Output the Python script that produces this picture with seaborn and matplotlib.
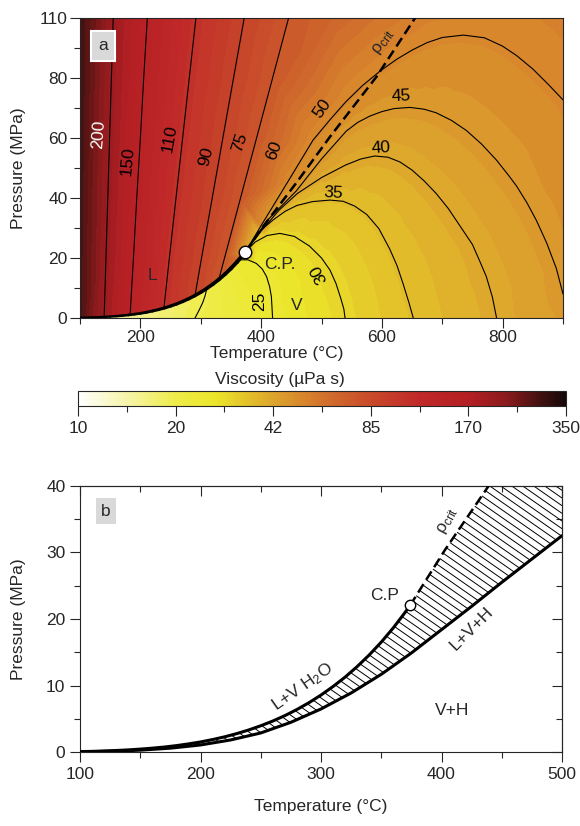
import numpy as np
import matplotlib
matplotlib.use("Agg")
import matplotlib.pyplot as plt
import matplotlib.tri as mtri
from matplotlib.colors import LinearSegmentedColormap, LogNorm
from matplotlib.cm import ScalarMappable
from matplotlib.patches import Polygon
from matplotlib.collections import LineCollection
from matplotlib.ticker import FixedLocator, NullFormatter
import seaborn as sns

sns.set_style("ticks")
plt.rcParams["font.family"] = ["Liberation Sans", "DejaVu Sans"]
plt.rcParams["mathtext.fontset"] = "custom"
plt.rcParams["mathtext.rm"] = "Liberation Sans"
plt.rcParams["mathtext.it"] = "Liberation Sans:italic"
plt.rcParams["axes.linewidth"] = 0.8
FS = 12.5

# ── Data ───────────────────────────────────────────────
T_CP, P_CP, VISC_CP = 374.0, 22.06, 42.0

# boiling curve of H2O with viscosity on both sides (µPa s)
BOIL_T = [100, 110, 120, 130, 140, 150, 160, 170, 180, 190, 200, 210, 220, 230, 240, 250, 260,
          270, 280, 290, 300, 310, 320, 330, 340, 350, 360, 370, 374]
BOIL_P = [0.10, 0.14, 0.20, 0.27, 0.36, 0.48, 0.62, 0.79, 1.00, 1.26, 1.55, 1.91, 2.32, 2.80,
          3.35, 3.98, 4.69, 5.50, 6.42, 7.44, 8.59, 9.87, 11.28, 12.86, 14.60, 16.53, 18.67,
          21.04, 22.06]
BOIL_LIQ = [282, 255, 232, 214, 200, 184, 172, 162, 153, 144, 135, 128, 122, 116, 111, 106, 102,
            97, 94, 90, 86, 82, 78, 74.5, 70.5, 66, 61.5, 52, 42]
BOIL_VAP = [12.3, 12.6, 13.0, 13.3, 13.7, 14.0, 14.4, 14.8, 15.1, 15.5, 15.8, 16.2, 16.6, 17.0,
            17.4, 17.8, 18.2, 18.6, 19.0, 19.4, 19.7, 20.1, 21.0, 21.8, 22.6, 23.5, 24.6, 27, 42]

# critical isochore
RHO_T = [374, 403, 460, 514, 591, 655]
RHO_P = [22.06, 30.4, 45.5, 60.4, 80.4, 100]

# liquid-side viscosity isolines
C200_T = [140, 143, 146, 149, 152, 155]
C200_P = [0.36, 20, 40, 60, 80, 100]
C150_T = [183, 188.5, 194, 200, 205.5, 211.5]
C150_P = [1.05, 20, 40, 60, 80, 100]
C110_T = [239, 248, 259, 270, 281, 292]
C110_P = [3.35, 20, 40, 60, 80, 100]
C90_T = [290.5, 301.3, 319, 336.6, 354.3, 372]
C90_P = [7.5, 20, 40, 60, 80, 100]
C75_T = [330, 339.4, 365.9, 392.5, 419, 445.5]
C75_P = [12.9, 20, 40, 60, 80, 100]

# vapour / supercritical isolines
C50_T = [374, 400, 446, 486, 515, 540, 568, 597, 625, 650, 675, 700, 735, 770, 800, 823, 850, 875, 900]
C50_P = [22.06, 30.8, 46, 59.3, 66.3, 72, 77.5, 82.3, 86.3, 89.3, 91.8, 93.5, 94.3, 93.4, 90.6, 87.5, 83, 78, 72.7]
C45_T = [374, 410, 458, 500, 541, 560, 580, 600, 620, 646, 670, 690, 715, 740, 765, 790, 810, 823, 840,
         856, 873, 889, 900]
C45_P = [22.06, 32.5, 42.3, 53, 62.3, 65.2, 67.3, 68.8, 69.8, 70.2, 69.6, 68.4, 65.9, 62.5, 58, 52.6, 47.5,
         44, 38.5, 32.5, 25, 16.5, 8]
C40_T = [374, 400, 430, 460, 500, 540, 565, 588, 610, 630, 650, 670, 690, 710, 730, 750, 762, 773, 783, 790]
C40_P = [22.06, 29, 36, 41.5, 46.8, 51, 53, 54, 53.6, 52, 49.3, 45.7, 41.5, 36.5, 30.5, 24.5, 19, 13.8, 7, 0]
C35_T = [374, 395, 420, 440, 459, 485, 514, 536, 555, 575, 595, 613, 625, 635, 645, 652]
C35_P = [22.06, 28.5, 32.7, 35.6, 37.5, 38.8, 39.3, 38.9, 37.3, 34.5, 29.8, 23, 17.5, 11.5, 5, 0]
C30_T = [374, 390, 410, 431, 455, 480, 500, 514, 524, 532, 537, 539]
C30_P = [22.06, 25.3, 27.5, 28.2, 27.2, 24, 20, 16, 11.5, 6.5, 3, 0]
C25_T = [364, 378, 392, 402, 409, 414, 417, 419]
C25_P = [19.4, 19.4, 18.2, 16.3, 13.8, 10.5, 7.1, 0]
C20_T = [290.5, 297, 303, 307, 310]
C20_P = [0, 2.5, 5, 7.3, 9.7]

# extra field samples at the frame edges (T, P, viscosity)
EDGE_T = [100, 100, 100, 100, 100, 150, 200, 250, 330, 360, 350, 385, 390, 480, 595, 720, 850, 900, 900, 900,
          520, 600, 680, 760, 840]
EDGE_P = [0, 25, 50, 75, 100, 0, 0, 0, 0, 0, 8, 8, 0, 0, 0, 0, 0, 0, 40, 100,
          100, 100, 100, 100, 100]
EDGE_V = [12.3, 284, 287, 290, 292, 14.0, 15.9, 17.9, 21.4, 22.6, 22.5, 24.4, 24.1, 27.5, 32.5, 37.5, 42.8,
          44.3, 47.5, 53.5, 66, 58, 53, 51.5, 52]

# panel b: halite-saturated L+V+H curve
LVH_T = [100, 125, 150, 175, 200, 225, 250, 275, 300, 325, 350, 375, 400, 425, 450, 475, 500]
LVH_P = [0.06, 0.15, 0.32, 0.62, 1.1, 1.85, 2.9, 4.5, 6.5, 8.9, 11.7, 14.9, 18.4, 21.9, 25.5, 29.0, 32.5]

CB_LABELS = ["10", "20", "42", "85", "170", "350"]

# ── Colour map ─────────────────────────────────────────
cmap = LinearSegmentedColormap.from_list("visc", [
    (0.00, "#ffffff"), (0.10, "#f6f4a8"), (0.20, "#eeec48"), (0.28, "#ebe62a"),
    (0.34, "#e4c42a"), (0.40, "#dda42c"), (0.46, "#d8862c"), (0.52, "#d06a2c"),
    (0.60, "#c84a2a"), (0.70, "#c02828"), (0.80, "#b41f24"), (0.88, "#8a1a1c"),
    (0.94, "#4a1212"), (1.00, "#160808")])
VMIN, VMAX = 10, 350
LMIN, LMAX = np.log10(VMIN), np.log10(VMAX)

# ── Scattered field samples ────────────────────────────
liquid_lines = [(200, C200_T, C200_P), (150, C150_T, C150_P), (110, C110_T, C110_P),
                (90, C90_T, C90_P), (75, C75_T, C75_P)]
vapour_lines = [(25, C25_T, C25_P), (20, C20_T, C20_P)]
arc_lines = [(50, C50_T, C50_P), (45, C45_T, C45_P), (40, C40_T, C40_P),
             (35, C35_T, C35_P), (30, C30_T, C30_P)]

fx, fy, fv, ff = [], [], [], []


def add_pt(t, p, v, f):
    fx.append(t); fy.append(p); fv.append(v); ff.append(f)


for lev, ts, ps in liquid_lines:
    for t, p in zip(ts, ps):
        add_pt(t, p, lev, "L" if t < T_CP else "S")
for lev, ts, ps in vapour_lines:
    for t, p in zip(ts, ps):
        add_pt(t, p, lev, "V" if t < T_CP else "S")
for lev, ts, ps in arc_lines:
    for t, p in zip(ts[1:], ps[1:]):
        add_pt(t, p, lev, "S")
for t, p, vl, vv in zip(BOIL_T[:-1], BOIL_P[:-1], BOIL_LIQ[:-1], BOIL_VAP[:-1]):
    add_pt(t, p + 0.35, vl, "L")
    add_pt(t, p - 0.35, vv, "V")
add_pt(T_CP, P_CP, VISC_CP, "S")
for t, p, v in zip(EDGE_T, EDGE_P, EDGE_V):
    below = t < T_CP and p < np.interp(t, BOIL_T, BOIL_P)
    add_pt(t, p, v, "V" if below else ("L" if t < T_CP else "S"))

fx, fy, fz, ff = np.array(fx), np.array(fy), np.log10(fv), np.array(ff)


def side_field(keep):
    sel = np.isin(ff, keep)
    x, y = fx[sel], fy[sel]
    base = mtri.Triangulation(x, y * 5.0)        # triangulate in screen-like aspect
    return mtri.Triangulation(x, y, triangles=base.triangles), fz[sel]


tri_vap, z_vap = side_field(["V", "S"])
tri_liq, z_liq = side_field(["L", "S"])

# ── Figure ─────────────────────────────────────────────
fig = plt.figure(figsize=(5.8, 8.26), dpi=100)
W, H = 580.0, 826.0
ax1 = fig.add_axes([80 / W, 1 - 318 / H, 483 / W, 300 / H])
cax = fig.add_axes([78 / W, 1 - 406 / H, 488 / W, 15 / H])
ax2 = fig.add_axes([80 / W, 1 - 752.3 / H, 482 / W, 266.6 / H])

# ── Panel a ────────────────────────────────────────────
levels = np.linspace(LMIN, LMAX, 61)
ax1.tricontourf(tri_vap, z_vap, levels=levels, cmap=cmap, vmin=LMIN, vmax=LMAX, zorder=0)
cs_liq = ax1.tricontourf(tri_liq, z_liq, levels=levels, cmap=cmap, vmin=LMIN, vmax=LMAX, zorder=1)
liq_side = Polygon(np.column_stack([[90] + BOIL_T + C50_T[1:] + [910, 910, 90],
                                    [0.1] + BOIL_P + C50_P[1:] + [72.7, 110, 110]]),
                   closed=True, fc="none", ec="none", transform=ax1.transData)
ax1.add_patch(liq_side)
cs_liq.set_clip_path(liq_side)

for lev, ts, ps in liquid_lines + vapour_lines + arc_lines:
    ax1.plot(ts, ps, color="black", lw=0.8, zorder=3)
ax1.plot(RHO_T, RHO_P, color="black", lw=1.8, dashes=(4, 2), zorder=4)
# boiling curve drawn a little heavier towards the critical point
boil_xy = np.column_stack([BOIL_T, BOIL_P])
boil_segs = np.stack([boil_xy[:-1], boil_xy[1:]], axis=1)
boil_lw = 1.5 + 1.5 * (np.array(BOIL_T[:-1]) - 100) / 274
ax1.add_collection(LineCollection(boil_segs, colors="black", linewidths=boil_lw,
                                  capstyle="round", zorder=5))
ax1.plot(T_CP, P_CP, "o", mfc="white", mec="black", ms=9, mew=1.0, zorder=6)

labels_a = [("200", 130.6, 61.3, 86, "white"), ("150", 178.6, 52.3, 84, "black"),
            ("110", 249, 59.7, 80, "black"), ("90", 309.4, 53.7, 76, "black"),
            ("75", 365, 58.5, 72, "black"), ("60", 421, 56, 70, "black"),
            ("50", 501.5, 69.8, 55, "black"), ("45", 632, 73.8, 2, "black"),
            ("40", 598, 56.8, 3, "black"), ("35", 519.7, 41.8, -3, "black"),
            ("30", 495.7, 14.7, 118, "black"), ("25", 398, 5.7, 90, "black")]
for txt, t, p, rot, col in labels_a:
    ax1.text(t, p, txt, rotation=rot, color=col, fontsize=FS, ha="center", va="center",
             rotation_mode="anchor", zorder=7)
ax1.text(602, 92, r"ρ$_{\mathrm{crit}}$", rotation=55, fontsize=FS, ha="center",
         va="center", rotation_mode="anchor", zorder=7)
ax1.text(220, 14.3, "L", fontsize=FS, ha="center", va="center", zorder=7)
ax1.text(459, 4.3, "V", fontsize=FS, ha="center", va="center", zorder=7)
ax1.text(431, 17.7, "C.P.", fontsize=FS, ha="center", va="center", zorder=7)
ax1.text(0.048, 0.907, "a", transform=ax1.transAxes, fontsize=FS, ha="center", va="center",
         zorder=8, bbox=dict(boxstyle="square,pad=0.42", fc="#d9d9d9", ec="white", lw=1.5))

ax1.set_xlim(100, 900)
ax1.set_ylim(0, 100)
ax1.set_xticks([200, 400, 600, 800])
ax1.set_xticks([100, 300, 500, 700, 900], minor=True)
ax1.set_yticks([0, 20, 40, 60, 80, 100])
ax1.set_yticklabels(["0", "20", "40", "60", "80", "110"])
ax1.set_yticks([10, 30, 50, 70, 90], minor=True)
ax1.tick_params(which="major", length=7, width=0.8, direction="out", labelsize=FS, pad=2)
ax1.tick_params(which="minor", length=4, width=0.8, direction="out")
ax1.set_xlabel("Temperature (°C)", fontsize=FS)
ax1.xaxis.set_label_coords((277 - 80) / 483, -0.093)
ax1.set_ylabel("Pressure (MPa)", fontsize=FS)
ax1.yaxis.set_label_coords(-0.112, 0.5)

# ── Colour bar ─────────────────────────────────────────
sm = ScalarMappable(norm=LogNorm(VMIN, VMAX), cmap=cmap)
cb = fig.colorbar(sm, cax=cax, orientation="horizontal")
major_pos = VMIN * (VMAX / VMIN) ** (np.arange(6) / 5)
minor_pos = VMIN * (VMAX / VMIN) ** ((np.arange(5) + 0.5) / 5)
cb.set_ticks(major_pos)
cb.set_ticklabels(CB_LABELS)
cax.xaxis.set_minor_locator(FixedLocator(minor_pos))
cax.xaxis.set_minor_formatter(NullFormatter())
cax.tick_params(which="major", length=7, width=0.8, labelsize=FS)
cax.tick_params(which="minor", length=4, width=0.8)
cb.outline.set_linewidth(0.8)
title = cax.set_title("Viscosity (µPa s)", fontsize=FS, pad=5)
title.set_x((280 - 78) / 488)

# ── Panel b ────────────────────────────────────────────
hatch_T = BOIL_T + RHO_T[1:] + LVH_T[::-1]
hatch_P = BOIL_P + RHO_P[1:] + LVH_P[::-1]
region = Polygon(np.column_stack([hatch_T, hatch_P]), closed=True, fc="none", ec="none")
ax2.add_patch(region)
segs = [[(100, c), (500, c - 0.126 * 400)] for c in np.arange(0, 95, 1.15)]
hatch = LineCollection(segs, colors="black", linewidths=0.7, zorder=2)
ax2.add_collection(hatch)
hatch.set_clip_path(region)

sns.lineplot(x=BOIL_T, y=BOIL_P, ax=ax2, color="black", lw=2.2, sort=False,
             estimator=None, zorder=4)
sns.lineplot(x=LVH_T, y=LVH_P, ax=ax2, color="black", lw=2.2, sort=False,
             estimator=None, zorder=4)
ax2.plot(RHO_T, RHO_P, color="black", lw=1.8, dashes=(4, 2), zorder=4)
ax2.plot(T_CP, P_CP, "o", mfc="white", mec="black", ms=7.5, mew=1.0, zorder=6)

ax2.text(353, 23.6, "C.P", fontsize=FS, ha="center", va="center")
ax2.text(405, 34.7, r"ρ$_{\mathrm{crit}}$", rotation=62, fontsize=FS, ha="center", va="center",
         rotation_mode="anchor")
ax2.text(425, 18.6, "L+V+H", rotation=45, fontsize=FS, ha="center", va="center",
         rotation_mode="anchor")
ax2.text(409, 6.2, "V+H", fontsize=FS, ha="center", va="center")
ax2.text(285, 9.8, r"L+V H$_2$O", rotation=35, fontsize=FS, ha="center", va="center",
         rotation_mode="anchor")
ax2.text(0.054, 0.905, "b", transform=ax2.transAxes, fontsize=FS, ha="center", va="center",
         bbox=dict(boxstyle="square,pad=0.3", fc="#d9d9d9", ec="none"))

ax2.set_xlim(100, 500)
ax2.set_ylim(0, 40)
ax2.set_xticks([100, 200, 300, 400, 500])
ax2.set_xticks([150, 250, 350, 450], minor=True)
ax2.set_yticks([0, 10, 20, 30, 40])
ax2.set_yticks([5, 15, 25, 35], minor=True)
ax2.tick_params(which="major", length=7, width=0.8, direction="out", labelsize=FS)
ax2.tick_params(which="minor", length=4, width=0.8, direction="out")
top = ax2.secondary_xaxis("top")
top.set_xticks([100, 200, 300, 400, 500])
top.xaxis.set_minor_locator(FixedLocator([150, 250, 350, 450]))
top.tick_params(which="major", direction="in", length=7, width=0.8, labeltop=False)
top.tick_params(which="minor", direction="in", length=4, width=0.8)
right = ax2.secondary_yaxis("right")
right.set_yticks([0, 10, 20, 30, 40])
right.yaxis.set_minor_locator(FixedLocator([5, 15, 25, 35]))
right.tick_params(which="major", direction="in", length=7, width=0.8, labelright=False)
right.tick_params(which="minor", direction="in", length=4, width=0.8)
ax2.set_xlabel("Temperature (°C)", fontsize=FS, labelpad=12)
ax2.set_ylabel("Pressure (MPa)", fontsize=FS)
ax2.yaxis.set_label_coords(-0.112, 0.5)

fig.savefig("out.png", dpi=100)
